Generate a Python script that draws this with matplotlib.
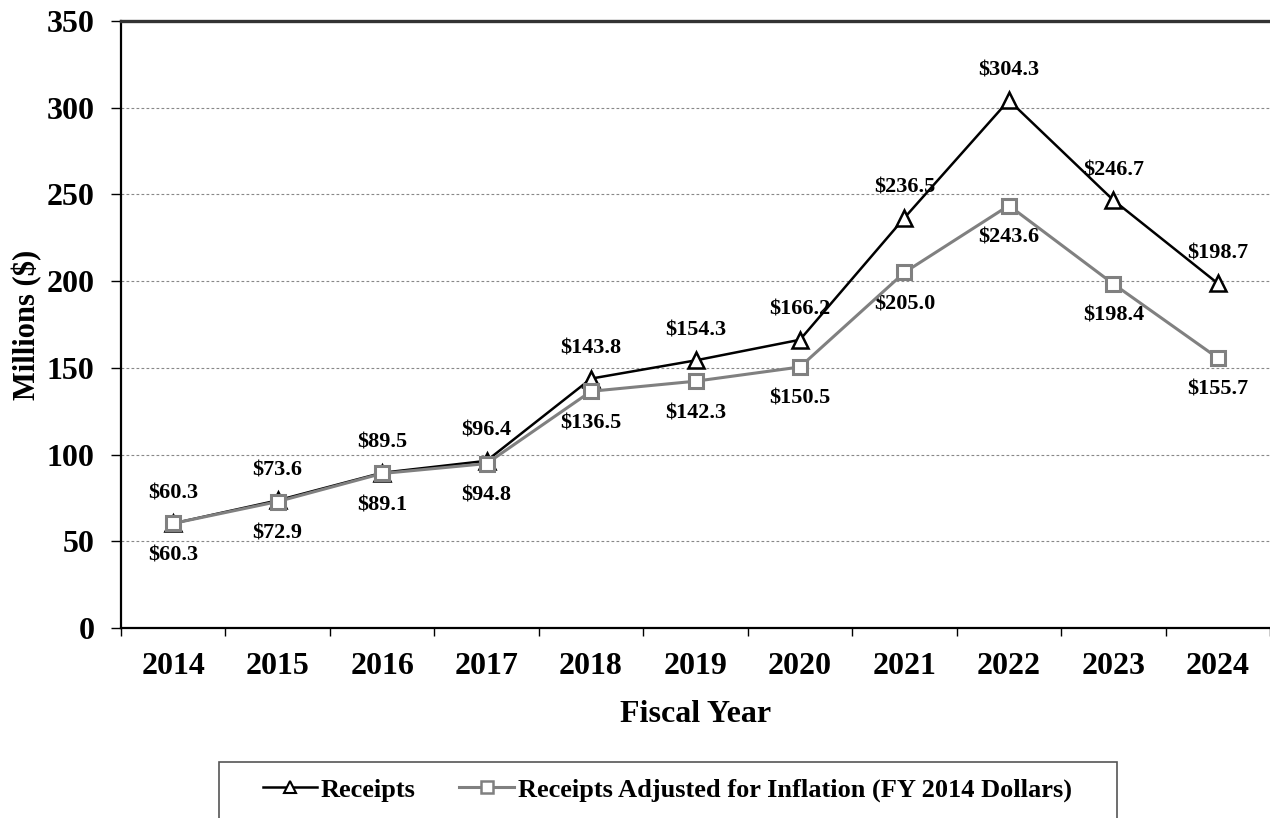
import matplotlib
matplotlib.use("Agg")
import matplotlib.pyplot as plt
import numpy as np
from matplotlib.lines import Line2D
from matplotlib.patches import Rectangle

years = ["2014", "2015", "2016", "2017", "2018", "2019", "2020", "2021", "2022", "2023", "2024"]
receipts = [60.3, 73.6, 89.5, 96.4, 143.8, 154.3, 166.2, 236.5, 304.3, 246.7, 198.7]
adjusted = [60.3, 72.9, 89.1, 94.8, 136.5, 142.3, 150.5, 205.0, 243.6, 198.4, 155.7]
yticks = [0, 50, 100, 150, 200, 250, 300, 350]
series_names = ["Receipts", "Receipts Adjusted for Inflation (FY 2014 Dollars)"]

plt.rcParams['font.family'] = ['Liberation Serif', 'DejaVu Serif']
plt.rcParams['font.weight'] = 'bold'

W, H = 1270, 818
fig = plt.figure(figsize=(W / 100, H / 100), dpi=100)
ax = fig.add_axes([121 / W, 190 / H, 1 - 121 / W, (628 - 21) / H])

x = np.arange(len(years))
gray = '#808080'
ax.plot(x, receipts, color='black', lw=1.8, marker='^', ms=11, mfc='white', mec='black', mew=1.8, zorder=3)
ax.plot(x, adjusted, color=gray, lw=2.2, marker='s', ms=10, mfc='white', mec=gray, mew=2.2, zorder=4)

for xi, v in zip(x, receipts):
    ax.annotate(f"${v:.1f}", (xi, v), xytext=(0, 21.5), textcoords='offset points',
                ha='center', va='center', fontsize=16, fontweight='bold')
for xi, v in zip(x, adjusted):
    ax.annotate(f"${v:.1f}", (xi, v), xytext=(0, -23), textcoords='offset points',
                ha='center', va='center', fontsize=16, fontweight='bold')

ax.set_xlim(-0.5, len(years) - 0.5)
ax.set_ylim(0, 350)
ax.set_yticks(yticks)
ax.set_yticklabels([str(t) for t in yticks], fontsize=23, fontweight='bold')
ax.tick_params(axis='y', length=7, width=1, direction='out', pad=12)

ax.set_xticks(np.arange(-0.5, len(years), 1.0))
ax.set_xticklabels([])
ax.tick_params(axis='x', which='major', length=6, width=1, direction='out')
ax.set_xticks(x, minor=True)
ax.set_xticklabels(years, minor=True, fontsize=23, fontweight='bold')
ax.tick_params(axis='x', which='minor', length=0, pad=17)

for t in yticks[1:-1]:
    ax.axhline(t, color='#888888', lw=0.8, ls=(0, (2.5, 2)), zorder=1)

for s in ['left', 'bottom']:
    ax.spines[s].set_linewidth(1.6)
    ax.spines[s].set_color('black')
ax.spines['top'].set_linewidth(2.4)
ax.spines['top'].set_color('#333333')
ax.spines['right'].set_visible(False)

ax.set_xlabel("Fiscal Year", fontsize=23, fontweight='bold', labelpad=14)
ax.set_ylabel("Millions ($)", fontsize=22, fontweight='bold')
ax.yaxis.set_label_coords((42 - 121) / (W - 121), 0.5)

# legend frame
fig.patches.append(Rectangle((219 / W, -20 / H), (1117 - 219) / W, (818 - 762 + 20) / H,
                             transform=fig.transFigure, fill=False, edgecolor='#555555',
                             linewidth=1.2, figure=fig))

handles = [
    Line2D([], [], color='black', lw=1.8, marker='^', ms=9, mfc='white', mec='black', mew=1.5),
    Line2D([], [], color=gray, lw=2.2, marker='s', ms=9, mfc='white', mec=gray, mew=1.8),
]
leg = fig.legend(handles, series_names, loc='center left',
                 bbox_to_anchor=(263 / W, (818 - 790) / H),
                 ncol=2, frameon=False,
                 prop={'family': 'Liberation Serif', 'weight': 'bold', 'size': 19},
                 handlelength=2.05, handletextpad=0.15, borderpad=0.0, borderaxespad=0.0,
                 columnspacing=1.65)

fig.savefig("out.png", dpi=100)
